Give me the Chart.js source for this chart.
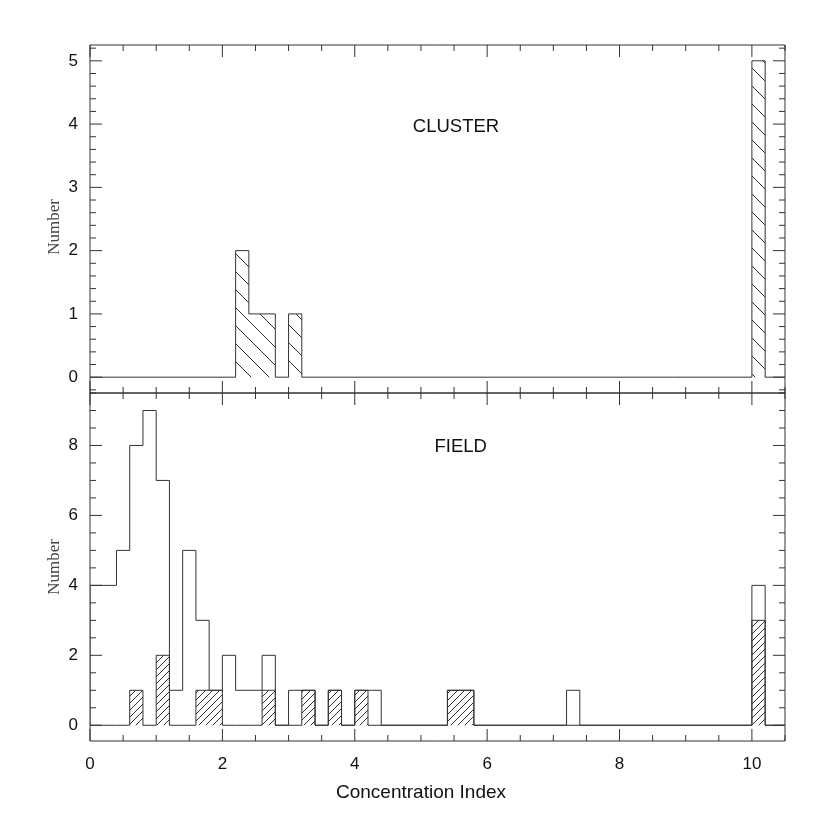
<!DOCTYPE html>
<html>
<head>
<meta charset="utf-8">
<script src="https://cdn.jsdelivr.net/npm/chart.js@4"></script>
<style>
  html, body { margin: 0; padding: 0; background: #fff; }
  #wrap { width: 830px; height: 830px; position: relative; }
</style>
</head>
<body>
<div id="wrap"><canvas id="chart" width="830" height="830"></canvas></div>
<script>
// bins are 0.2 wide, starting at 0.0 (last bin is 10.0 - 10.2)
const binWidth = 0.2;

// CLUSTER panel
const clusterCounts = [
  0, 0, 0, 0, 0, 0, 0, 0, 0, 0,
  0, 2, 1, 1, 0, 1, 0, 0, 0, 0,
  0, 0, 0, 0, 0, 0, 0, 0, 0, 0,
  0, 0, 0, 0, 0, 0, 0, 0, 0, 0,
  0, 0, 0, 0, 0, 0, 0, 0, 0, 0,
  5
];

// FIELD panel, all objects (open histogram)
const fieldAll = [
  4, 4, 5, 8, 9, 7, 1, 5, 3, 1,
  2, 1, 1, 2, 0, 1, 1, 0, 1, 0,
  1, 1, 0, 0, 0, 0, 0, 1, 1, 0,
  0, 0, 0, 0, 0, 0, 1, 0, 0, 0,
  0, 0, 0, 0, 0, 0, 0, 0, 0, 0,
  4
];

// FIELD panel, hatched subset
const fieldHatched = [
  0, 0, 0, 1, 0, 2, 0, 0, 1, 1,
  0, 0, 0, 1, 0, 0, 1, 0, 1, 0,
  1, 0, 0, 0, 0, 0, 0, 1, 1, 0,
  0, 0, 0, 0, 0, 0, 0, 0, 0, 0,
  0, 0, 0, 0, 0, 0, 0, 0, 0, 0,
  3
];

const xTickLabels = [0, 2, 4, 6, 8, 10];
const topTickLabels = [0, 1, 2, 3, 4, 5];
const bottomTickLabels = [0, 2, 4, 6, 8];

const lineColor = "#333";
const tickFont = { family: "'Liberation Sans', Arial, sans-serif", size: 17 };

// turn bin counts into points for a stepped line
// (each point holds the count of the bin that ends at it)
function steps(counts) {
  const pts = [{ x: 0, y: 0 }];
  counts.forEach((c, i) => {
    pts.push({ x: +((i + 1) * binWidth).toFixed(1), y: c });
  });
  pts.push({ x: 10.5, y: 0 });
  return pts;
}

function hatch(size, forward) {
  const c = document.createElement("canvas");
  c.width = size;
  c.height = size;
  const g = c.getContext("2d");
  g.strokeStyle = lineColor;
  g.lineWidth = 1;
  g.beginPath();
  if (forward) {
    g.moveTo(0, size); g.lineTo(size, 0);
    g.moveTo(-1, 1); g.lineTo(1, -1);
    g.moveTo(size - 1, size + 1); g.lineTo(size + 1, size - 1);
  } else {
    g.moveTo(0, 0); g.lineTo(size, size);
    g.moveTo(size - 1, -1); g.lineTo(size + 1, 1);
    g.moveTo(-1, size - 1); g.lineTo(1, size + 1);
  }
  g.stroke();
  return g.createPattern(c, "repeat");
}

// frame, inward ticks on every side, panel labels
const framePlugin = {
  id: "frame",
  afterDatasetsDraw(chart) {
    const ctx = chart.ctx;
    const x = chart.scales.x;
    const panels = [
      { s: chart.scales.yTop, minor: 0.2, major: 1 },
      { s: chart.scales.yBot, minor: 0.5, major: 2 }
    ];
    ctx.save();
    ctx.strokeStyle = lineColor;
    ctx.lineWidth = 1;
    ctx.beginPath();
    panels.forEach(p => {
      const t = p.s.top, b = p.s.bottom, l = x.left, r = x.right;
      ctx.rect(l, t, r - l, b - t);
      for (let k = 0; k * 0.5 <= x.max + 1e-9; k++) {
        const v = k * 0.5;
        const len = (v % 2 === 0) ? 12 : 6;
        const px = x.getPixelForValue(v);
        ctx.moveTo(px, b); ctx.lineTo(px, b - len);
        ctx.moveTo(px, t); ctx.lineTo(px, t + len);
      }
      const k0 = Math.ceil(p.s.min / p.minor - 1e-9);
      const k1 = Math.floor(p.s.max / p.minor + 1e-9);
      for (let k = k0; k <= k1; k++) {
        const v = +(k * p.minor).toFixed(2);
        const isMajor = Math.abs(v / p.major - Math.round(v / p.major)) < 1e-6;
        const len = isMajor ? 12 : 6;
        const py = p.s.getPixelForValue(v);
        ctx.moveTo(l, py); ctx.lineTo(l + len, py);
        ctx.moveTo(r, py); ctx.lineTo(r - len, py);
      }
    });
    ctx.stroke();

    ctx.fillStyle = "#111";
    ctx.textAlign = "center";
    ctx.textBaseline = "middle";
    ctx.font = "18.5px 'Liberation Sans', Arial, sans-serif";
    ctx.fillText("CLUSTER", x.getPixelForValue(5.53), chart.scales.yTop.getPixelForValue(3.96));
    ctx.fillText("FIELD", x.getPixelForValue(5.6), chart.scales.yBot.getPixelForValue(7.95));

    ctx.font = "19px 'Liberation Sans', Arial, sans-serif";
    ctx.fillText("Concentration Index", 421, 793);

    ctx.fillStyle = "#444";
    ctx.font = "17px 'Liberation Serif', 'Times New Roman', serif";
    [227, 567].forEach(cy => {
      ctx.save();
      ctx.translate(55, cy);
      ctx.rotate(-Math.PI / 2);
      ctx.fillText("Number", 0, 0);
      ctx.restore();
    });
    ctx.restore();
  }
};

function yAxis(min, max, labels, weight) {
  return {
    type: "linear",
    position: "left",
    stack: "panels",
    stackWeight: 1,
    weight: weight,
    min: min,
    max: max,
    grid: { display: false, drawTicks: false },
    border: { display: false },
    ticks: { font: tickFont, color: "#111", padding: 12 },
    afterBuildTicks: s => { s.ticks = labels.map(v => ({ value: v })); },
    afterFit: s => { s.width = 90; }
  };
}

const ctx = document.getElementById("chart");

new Chart(ctx, {
  type: "line",
  data: {
    datasets: [
      {
        label: "Cluster",
        data: steps(clusterCounts),
        yAxisID: "yTop",
        stepped: "after",
        borderColor: lineColor,
        borderWidth: 1,
        pointRadius: 0,
        fill: "origin",
        backgroundColor: hatch(18, false)
      },
      {
        label: "Field (all)",
        data: steps(fieldAll),
        yAxisID: "yBot",
        stepped: "after",
        borderColor: lineColor,
        borderWidth: 1,
        pointRadius: 0,
        fill: false
      },
      {
        label: "Field (hatched)",
        data: steps(fieldHatched),
        yAxisID: "yBot",
        stepped: "after",
        borderColor: lineColor,
        borderWidth: 1,
        pointRadius: 0,
        fill: "origin",
        backgroundColor: hatch(7, true)
      }
    ]
  },
  options: {
    responsive: false,
    animation: false,
    events: [],
    layout: { padding: { left: 0, top: 45, right: 45, bottom: 0 } },
    plugins: {
      legend: { display: false },
      tooltip: { enabled: false }
    },
    scales: {
      x: {
        type: "linear",
        min: 0,
        max: 10.5,
        grid: { display: false, drawTicks: false },
        border: { display: false },
        ticks: { font: tickFont, color: "#111", padding: 13, maxRotation: 0, autoSkip: false },
        afterBuildTicks: s => { s.ticks = xTickLabels.map(v => ({ value: v })); },
        afterFit: s => { s.height = 89; }
      },
      yTop: yAxis(-0.25, 5.25, topTickLabels, 2),
      yBot: yAxis(-0.45, 9.5, bottomTickLabels, 1)
    }
  },
  plugins: [framePlugin]
});
</script>
</body>
</html>
